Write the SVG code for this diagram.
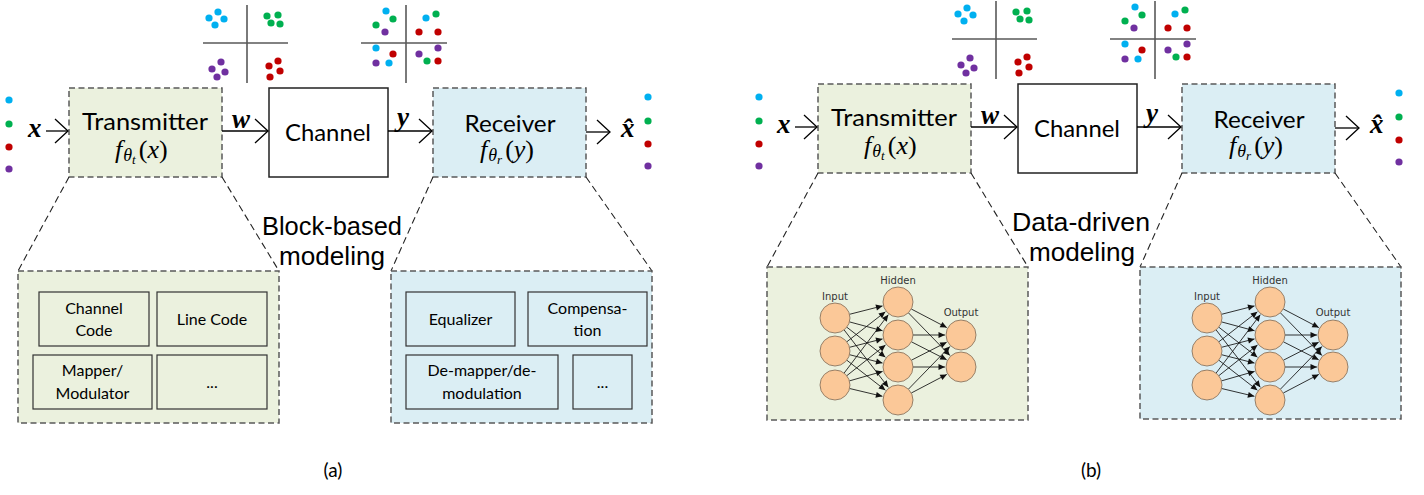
<svg xmlns="http://www.w3.org/2000/svg" xmlns:xlink="http://www.w3.org/1999/xlink" width="1424" height="495" viewBox="0 0 1424 495">
<style>
.lbl{font-family:Lato,"Liberation Sans",sans-serif;fill:#000;text-anchor:middle}
.big{font-size:23px}
.mod{font-family:"Liberation Sans",Lato,sans-serif;font-size:26px}
.inner{font-size:16px}
.cap{font-size:19px}
.math{font-family:"Liberation Serif",serif;font-style:italic;font-size:26px;fill:#000}
.bmath{font-family:"Liberation Serif",serif;font-style:italic;font-weight:bold;font-size:27px;fill:#000}
.nnl{font-family:"DejaVu Sans",sans-serif;font-size:10px;fill:#333;text-anchor:middle}
.dash{stroke:#595959;stroke-width:1.5;stroke-dasharray:6 3.5}
.tx{fill:#EBF1DE}
.rx{fill:#DBEEF4}
.ibox{stroke:#333;stroke-width:1.2}
.exp{stroke:#222;stroke-width:1.1;stroke-dasharray:7 4;fill:none}
.arr{stroke:#000;stroke-width:1.3;fill:none;marker-end:url(#open)}
.ax{stroke:#595959;stroke-width:1.6}
.c{fill:#00B0F0}.g{fill:#00B050}.r{fill:#C00000}.p{fill:#7030A0}
.neu{fill:#FBC898;stroke:#7d6a55;stroke-width:0.8}
.edge{stroke:#111;stroke-width:0.85;marker-end:url(#tri)}
</style>
<defs>
<marker id="open" markerUnits="userSpaceOnUse" markerWidth="18" markerHeight="28" viewBox="-15 -14 17 28" refX="0" refY="0" orient="auto">
<path d="M-13,-12 L0,0 L-13,12" fill="none" stroke="#000" stroke-width="1.3"/>
</marker>
<marker id="tri" markerUnits="userSpaceOnUse" markerWidth="8" markerHeight="8" viewBox="-7 -4 8 8" refX="0" refY="0" orient="auto">
<path d="M-6.5,-3 L0,0 L-6.5,3 Z" fill="#111"/>
</marker>
<g id="const1">
<line class="ax" x1="0" y1="-38" x2="0" y2="40"/>
<line class="ax" x1="-44" y1="0" x2="41" y2="0"/>
<circle class="c" cx="-38" cy="-25" r="3.6"/><circle class="c" cx="-29" cy="-31" r="3.6"/><circle class="c" cx="-23" cy="-24" r="3.6"/><circle class="c" cx="-32" cy="-18" r="3.6"/>
<circle class="g" cx="20" cy="-27" r="3.6"/><circle class="g" cx="31" cy="-28" r="3.6"/><circle class="g" cx="24" cy="-20" r="3.6"/><circle class="g" cx="33" cy="-19" r="3.6"/>
<circle class="p" cx="-26" cy="19" r="3.6"/><circle class="p" cx="-35" cy="26" r="3.6"/><circle class="p" cx="-22" cy="29" r="3.6"/><circle class="p" cx="-30" cy="34" r="3.6"/>
<circle class="r" cx="31" cy="18" r="3.6"/><circle class="r" cx="22" cy="23" r="3.6"/><circle class="r" cx="33" cy="28" r="3.6"/><circle class="r" cx="23" cy="34" r="3.6"/>
</g>
<g id="const2">
<line class="ax" x1="0" y1="-38" x2="0" y2="40"/>
<line class="ax" x1="-45" y1="0" x2="41" y2="0"/>
<circle class="c" cx="-20" cy="-32" r="3.6"/><circle class="g" cx="-13" cy="-24" r="3.6"/><circle class="g" cx="-30" cy="-18" r="3.6"/><circle class="p" cx="-21" cy="-11" r="3.6"/>
<circle class="c" cx="20" cy="-25" r="3.6"/><circle class="g" cx="30" cy="-29" r="3.6"/><circle class="r" cx="13" cy="-11" r="3.6"/><circle class="r" cx="32" cy="-11" r="3.6"/>
<circle class="c" cx="-30" cy="5" r="3.6"/><circle class="r" cx="-13" cy="11" r="3.6"/><circle class="p" cx="-30" cy="20" r="3.6"/><circle class="c" cx="-17" cy="20" r="3.6"/>
<circle class="p" cx="13" cy="11" r="3.6"/><circle class="p" cx="32" cy="5" r="3.6"/><circle class="g" cx="21" cy="18" r="3.6"/><circle class="r" cx="32" cy="18" r="3.6"/>
</g>
<g id="dots">
<circle class="c" cx="0" cy="0" r="3.6"/><circle class="g" cx="0" cy="24" r="3.6"/><circle class="r" cx="0" cy="47" r="3.6"/><circle class="p" cx="0" cy="69" r="3.6"/>
</g>
<g id="nn">
<line class="edge" x1="82.5" y1="46.3" x2="115.5" y2="37.9"/>
<line class="edge" x1="82.5" y1="53.9" x2="115.6" y2="62.8"/>
<line class="edge" x1="79.8" y1="59.2" x2="118.4" y2="89.2"/>
<line class="edge" x1="77.1" y1="61.9" x2="121.3" y2="119.3"/>
<line class="edge" x1="79.8" y1="73.8" x2="118.4" y2="43.8"/>
<line class="edge" x1="82.5" y1="79.3" x2="115.5" y2="70.9"/>
<line class="edge" x1="82.5" y1="86.7" x2="115.5" y2="95.1"/>
<line class="edge" x1="79.8" y1="92.2" x2="118.4" y2="122.2"/>
<line class="edge" x1="77.1" y1="105.1" x2="121.3" y2="46.7"/>
<line class="edge" x1="79.8" y1="107.7" x2="118.5" y2="77.0"/>
<line class="edge" x1="82.4" y1="112.9" x2="115.6" y2="103.4"/>
<line class="edge" x1="82.6" y1="120.5" x2="115.4" y2="128.3"/>
<line class="edge" x1="144.3" y1="41.0" x2="179.8" y2="59.6"/>
<line class="edge" x1="141.4" y1="44.8" x2="182.9" y2="87.5"/>
<line class="edge" x1="146" y1="67" x2="178" y2="67"/>
<line class="edge" x1="144.4" y1="73.8" x2="179.7" y2="91.8"/>
<line class="edge" x1="144.4" y1="92.2" x2="179.7" y2="74.2"/>
<line class="edge" x1="146" y1="99" x2="178" y2="99"/>
<line class="edge" x1="141.4" y1="121.2" x2="182.9" y2="78.5"/>
<line class="edge" x1="144.3" y1="125.0" x2="179.8" y2="106.4"/>
<circle class="neu" cx="68" cy="50" r="15"/><circle class="neu" cx="68" cy="83" r="15"/><circle class="neu" cx="68" cy="117" r="15"/>
<circle class="neu" cx="131" cy="34" r="15"/><circle class="neu" cx="131" cy="67" r="15"/><circle class="neu" cx="131" cy="99" r="15"/><circle class="neu" cx="131" cy="132" r="15"/>
<circle class="neu" cx="194" cy="67" r="15"/><circle class="neu" cx="194" cy="99" r="15"/>
</g>
</defs>
<rect width="1424" height="495" fill="#fff"/>

<!-- ============ Panel (a) ============ -->
<g id="a-constellation-tx"><use xlink:href="#const1" href="#const1" x="247" y="43"/></g>
<g id="a-constellation-rx"><use xlink:href="#const2" href="#const2" x="406" y="43"/></g>
<g id="a-input-symbols"><use xlink:href="#dots" href="#dots" x="9" y="100"/></g>
<g id="a-output-symbols"><use xlink:href="#dots" href="#dots" x="648" y="97"/></g>

<g id="a-transmitter">
<rect class="tx dash" x="69" y="88" width="153" height="89"/>
<text class="lbl big" x="145" y="130" textLength="126" lengthAdjust="spacingAndGlyphs">Transmitter</text>
<text class="math" x="115" y="158">f<tspan font-size="18" dy="3" dx="1">θ</tspan><tspan font-size="13" dy="3">t</tspan><tspan font-style="normal" dy="-6" dx="3">(</tspan>x<tspan font-style="normal">)</tspan></text>
</g>
<g id="a-channel">
<rect x="269" y="88" width="119" height="89" fill="#fff" stroke="#222" stroke-width="1.5"/>
<text class="lbl big" x="328" y="141" textLength="86" lengthAdjust="spacingAndGlyphs">Channel</text>
</g>
<g id="a-receiver">
<rect class="rx dash" x="433" y="88" width="153" height="89"/>
<text class="lbl big" x="510" y="132" textLength="91" lengthAdjust="spacingAndGlyphs">Receiver</text>
<text class="math" x="480" y="158">f<tspan font-size="18" dy="3" dx="1">θ</tspan><tspan font-size="13" dy="3">r</tspan><tspan font-style="normal" dy="-6" dx="3">(</tspan>y<tspan font-style="normal">)</tspan></text>
</g>

<g id="a-connectors">
<line class="arr" x1="46" y1="131" x2="68" y2="131"/>
<line class="arr" x1="222" y1="131" x2="268" y2="131"/>
<line class="arr" x1="388" y1="131" x2="432" y2="131"/>
<line class="arr" x1="586" y1="132" x2="610" y2="132"/>
<text class="bmath" x="28" y="137">x</text>
<text class="bmath" x="232" y="128">w</text>
<text class="bmath" x="397" y="126">y</text>
<text class="bmath" x="621" y="137">x&#x302;</text>
<line class="exp" x1="69" y1="177" x2="18" y2="271"/>
<line class="exp" x1="222" y1="177" x2="279" y2="271"/>
<line class="exp" x1="433" y1="177" x2="391" y2="271"/>
<line class="exp" x1="586" y1="177" x2="652" y2="271"/>
</g>

<g id="a-tx-blocks">
<rect class="tx dash" x="18" y="271" width="261" height="152"/>
<rect class="tx ibox" x="39" y="292" width="110" height="54"/>
<text class="lbl inner" x="94" y="314">Channel</text>
<text class="lbl inner" x="94" y="336">Code</text>
<rect class="tx ibox" x="157" y="292" width="110" height="54"/>
<text class="lbl inner" x="212" y="325">Line Code</text>
<rect class="tx ibox" x="33" y="355" width="119" height="54"/>
<text class="lbl inner" x="92.5" y="376">Mapper/</text>
<text class="lbl inner" x="92.5" y="399">Modulator</text>
<rect class="tx ibox" x="157" y="355" width="110" height="54"/>
<text class="lbl inner" x="212" y="388">...</text>
</g>
<g id="a-rx-blocks">
<rect class="rx dash" x="391" y="271" width="261" height="152"/>
<rect class="rx ibox" x="406" y="292" width="109" height="54"/>
<text class="lbl inner" x="460.5" y="325">Equalizer</text>
<rect class="rx ibox" x="528" y="292" width="119" height="54"/>
<text class="lbl inner" x="587.5" y="314">Compensa-</text>
<text class="lbl inner" x="587.5" y="336">tion</text>
<rect class="rx ibox" x="406" y="355" width="152" height="54"/>
<text class="lbl inner" x="482" y="376">De-mapper/de-</text>
<text class="lbl inner" x="482" y="399">modulation</text>
<rect class="rx ibox" x="573" y="355" width="59" height="54"/>
<text class="lbl inner" x="602.5" y="388">...</text>
</g>
<g id="a-title">
<text class="lbl mod" x="332" y="235" textLength="140" lengthAdjust="spacingAndGlyphs">Block-based</text>
<text class="lbl mod" x="332" y="265" textLength="106" lengthAdjust="spacingAndGlyphs">modeling</text>
<text class="lbl cap" x="333" y="477">(a)</text>
</g>

<!-- ============ Panel (b) ============ -->
<g id="b-constellation-tx"><use xlink:href="#const1" href="#const1" x="996" y="39"/></g>
<g id="b-constellation-rx"><use xlink:href="#const2" href="#const2" x="1155" y="39"/></g>
<g id="b-input-symbols"><use xlink:href="#dots" href="#dots" x="759" y="97"/></g>
<g id="b-output-symbols"><use xlink:href="#dots" href="#dots" x="1399" y="93"/></g>

<g id="b-transmitter">
<rect class="tx dash" x="818" y="84" width="153" height="89"/>
<text class="lbl big" x="894" y="126" textLength="126" lengthAdjust="spacingAndGlyphs">Transmitter</text>
<text class="math" x="864" y="154">f<tspan font-size="18" dy="3" dx="1">θ</tspan><tspan font-size="13" dy="3">t</tspan><tspan font-style="normal" dy="-6" dx="3">(</tspan>x<tspan font-style="normal">)</tspan></text>
</g>
<g id="b-channel">
<rect x="1018" y="84" width="119" height="89" fill="#fff" stroke="#222" stroke-width="1.5"/>
<text class="lbl big" x="1077" y="137" textLength="86" lengthAdjust="spacingAndGlyphs">Channel</text>
</g>
<g id="b-receiver">
<rect class="rx dash" x="1182" y="84" width="153" height="89"/>
<text class="lbl big" x="1259" y="128" textLength="91" lengthAdjust="spacingAndGlyphs">Receiver</text>
<text class="math" x="1229" y="154">f<tspan font-size="18" dy="3" dx="1">θ</tspan><tspan font-size="13" dy="3">r</tspan><tspan font-style="normal" dy="-6" dx="3">(</tspan>y<tspan font-style="normal">)</tspan></text>
</g>

<g id="b-connectors">
<line class="arr" x1="795" y1="127" x2="817" y2="127"/>
<line class="arr" x1="971" y1="127" x2="1017" y2="127"/>
<line class="arr" x1="1137" y1="127" x2="1181" y2="127"/>
<line class="arr" x1="1335" y1="128" x2="1359" y2="128"/>
<text class="bmath" x="777" y="133">x</text>
<text class="bmath" x="981" y="124">w</text>
<text class="bmath" x="1146" y="122">y</text>
<text class="bmath" x="1370" y="133">x&#x302;</text>
<line class="exp" x1="818" y1="173" x2="767" y2="267"/>
<line class="exp" x1="971" y1="173" x2="1028" y2="267"/>
<line class="exp" x1="1182" y1="173" x2="1140" y2="267"/>
<line class="exp" x1="1335" y1="173" x2="1401" y2="267"/>
</g>

<g id="b-tx-nn">
<rect class="tx dash" x="767" y="267" width="261" height="153"/>
<use xlink:href="#nn" href="#nn" x="767" y="268"/>
<text class="nnl" x="835" y="300">Input</text>
<text class="nnl" x="898" y="284">Hidden</text>
<text class="nnl" x="961" y="316">Output</text>
</g>
<g id="b-rx-nn">
<rect class="rx dash" x="1140" y="267" width="261" height="152"/>
<use xlink:href="#nn" href="#nn" x="1139" y="268"/>
<text class="nnl" x="1207" y="300">Input</text>
<text class="nnl" x="1270" y="284">Hidden</text>
<text class="nnl" x="1333" y="316">Output</text>
</g>
<g id="b-title">
<text class="lbl mod" x="1081" y="231" textLength="138" lengthAdjust="spacingAndGlyphs">Data-driven</text>
<text class="lbl mod" x="1082" y="261" textLength="106" lengthAdjust="spacingAndGlyphs">modeling</text>
<text class="lbl cap" x="1091" y="477">(b)</text>
</g>
</svg>
